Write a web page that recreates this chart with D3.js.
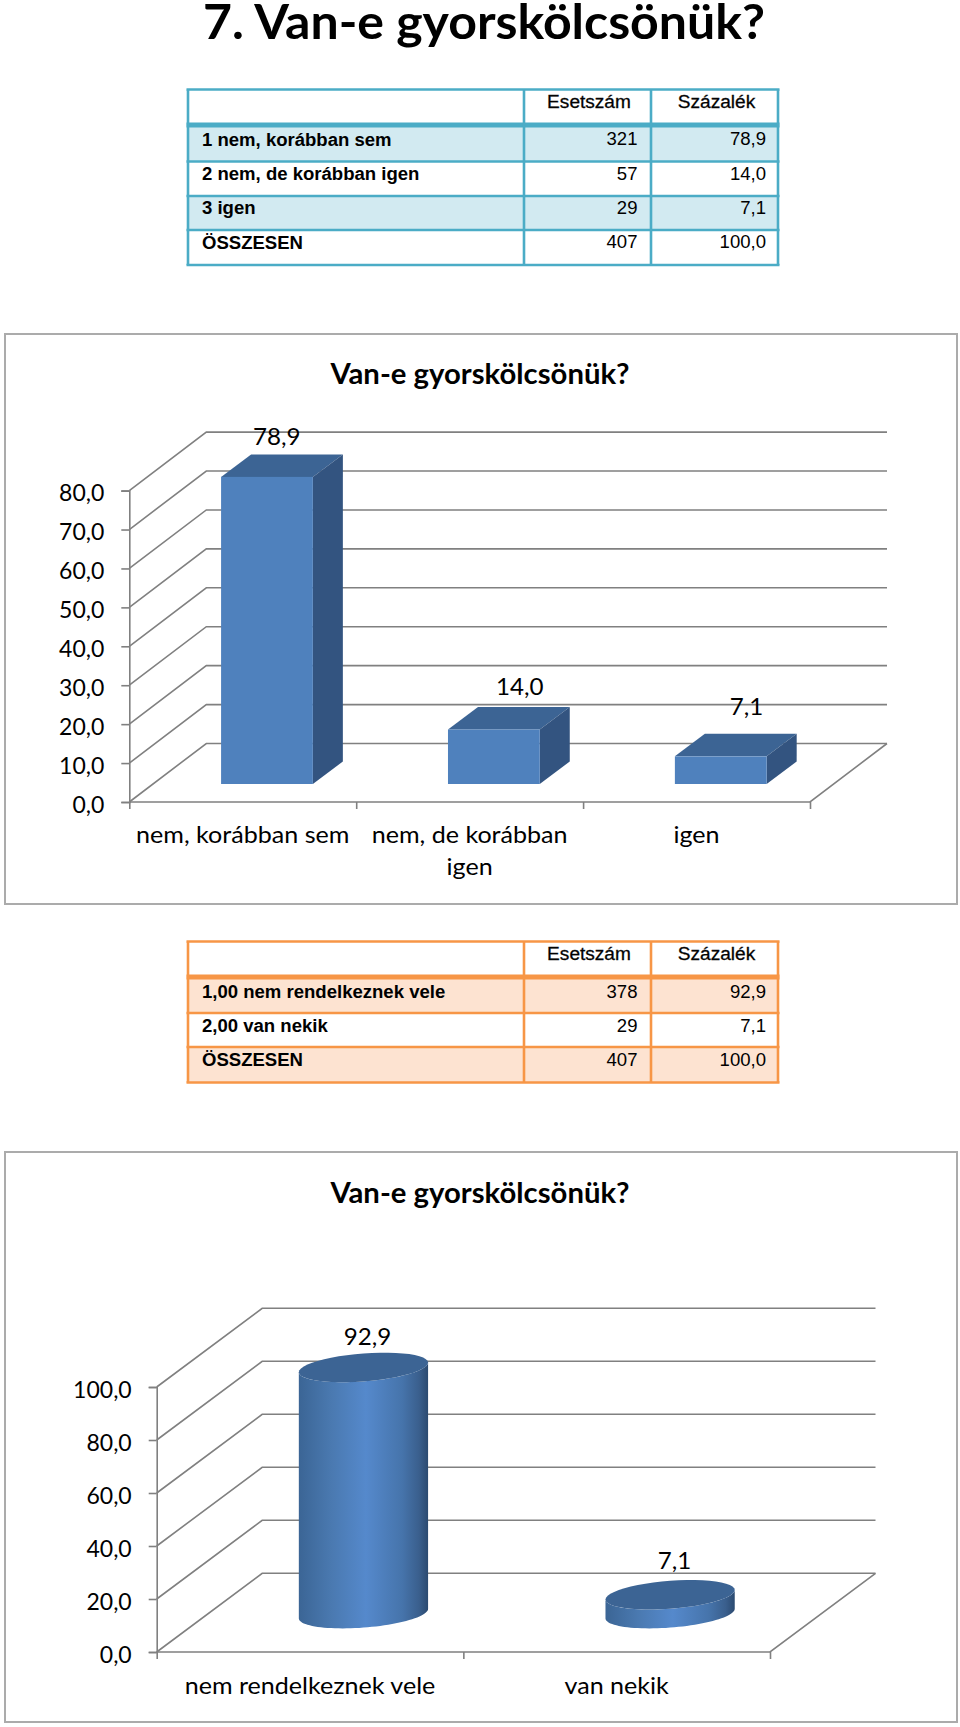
<!DOCTYPE html>
<html><head><meta charset="utf-8">
<script src="https://cdn.jsdelivr.net/npm/d3@7"></script>
<style>html,body{margin:0;padding:0;background:#fff}svg{display:block}text{fill:#000}</style>
</head><body><svg id="c" width="960" height="1727"></svg>
<script>
const pageTitle = "7. Van-e gyorskölcsönük?";
const chartTitle = "Van-e gyorskölcsönük?";
const tableHeader = ["", "Esetszám", "Százalék"];
const table1Labels = ["1 nem, korábban sem", "2 nem, de korábban igen", "3 igen", "ÖSSZESEN"];
const table1Counts = [321, 57, 29, 407];
const table1Pct = [78.9, 14.0, 7.1, 100.0];
const table2Labels = ["1,00 nem rendelkeznek vele", "2,00 van nekik", "ÖSSZESEN"];
const table2Counts = [378, 29, 407];
const table2Pct = [92.9, 7.1, 100.0];
const barCategories = ["nem, korábban sem", "nem, de korábban igen", "igen"];
const barValues = [78.9, 14.0, 7.1];
const barTicks = [0, 10, 20, 30, 40, 50, 60, 70, 80];
const cylCategories = ["nem rendelkeznek vele", "van nekik"];
const cylValues = [92.9, 7.1];
const cylTicks = [0, 20, 40, 60, 80, 100];

const svg = d3.select("#c");
const HU = d3.formatLocale({decimal: ",", thousands: " ", grouping: [3], currency: ["", ""]});
const fmt = HU.format(".1f");
const SANS = "Lato, Carlito, sans-serif";
const ARIAL = "'Liberation Sans', Arial, sans-serif";

// horizontally stretch a text to a factor of its natural width (the source picture is stretched)
function stretch(sel, f) {
  sel.each(function () {
    const n = this.getComputedTextLength();
    this.setAttribute("textLength", n * f);
    this.setAttribute("lengthAdjust", "spacingAndGlyphs");
  });
  return sel;
}

// page title
stretch(svg.append("text").attr("x", 484).attr("y", 39).attr("text-anchor", "middle")
  .attr("font-family", SANS).attr("font-weight", 700).attr("font-size", 47).text(pageTitle), 1.064);

// ---------- tables ----------
function drawTable(o) {
  const g = svg.append("g");
  const [x0, x1, x2, x3] = o.cols;
  const ys = o.rowYs;
  o.labels.forEach((l, i) => {
    if (i % 2 === 0) g.append("rect").attr("x", x0).attr("y", ys[i + 1]).attr("width", x3 - x0)
      .attr("height", ys[i + 2] - ys[i + 1]).attr("fill", o.band);
  });
  ys.forEach((y, i) => g.append("line").attr("x1", x0 - 1.5).attr("x2", x3 + 1.5).attr("y1", y).attr("y2", y)
    .attr("stroke", o.color).attr("stroke-width", i === 1 ? 5 : 2.6));
  o.cols.forEach(x => g.append("line").attr("x1", x).attr("x2", x).attr("y1", ys[0]).attr("y2", ys[ys.length - 1])
    .attr("stroke", o.color).attr("stroke-width", 2.6));
  const T = (x, y, s, anchor, bold, f) => stretch(g.append("text").attr("x", x).attr("y", y)
    .attr("text-anchor", anchor).attr("font-family", ARIAL).attr("font-size", 18)
    .attr("font-weight", bold ? 700 : 400).attr("fill", "#111").text(s), f);
  T(589, o.base[0], tableHeader[1], "middle", false, 1.06).attr("stroke", "#111").attr("stroke-width", 0.3);
  T(716.5, o.base[0], tableHeader[2], "middle", false, 1.06).attr("stroke", "#111").attr("stroke-width", 0.3);
  o.labels.forEach((l, i) => {
    T(202, o.base[i + 1], l, "start", true, 1.03);
    T(637.5, o.base[i + 1] + o.numShift, String(o.counts[i]), "end", false, 1.03);
    T(766, o.base[i + 1] + o.numShift, fmt(o.pct[i]), "end", false, 1.03);
  });
}
drawTable({cols: [188, 524, 651, 778], rowYs: [89.5, 125, 161.5, 196, 230, 265],
  base: [107.5, 145.5, 180, 214, 248.5], numShift: -0.5, labels: table1Labels, counts: table1Counts, pct: table1Pct,
  color: "#4bacc6", band: "#d2eaf1"});
drawTable({cols: [188, 524, 651, 778], rowYs: [941.5, 977, 1013, 1047, 1082.5],
  base: [960, 998, 1032, 1066], numShift: 0, labels: table2Labels, counts: table2Counts, pct: table2Pct,
  color: "#f79646", band: "#fde3d1"});

// ---------- 3D chart frame ----------
function frame(o) {
  const g = svg.append("g");
  g.append("rect").attr("x", o.box[0]).attr("y", o.box[1]).attr("width", o.box[2] - o.box[0])
    .attr("height", o.box[3] - o.box[1]).attr("fill", "#fff").attr("stroke", "#ababab").attr("stroke-width", 2);
  stretch(g.append("text").attr("x", 480).attr("y", o.titleY).attr("text-anchor", "middle")
    .attr("font-family", SANS).attr("font-weight", 700).attr("font-size", 29).text(chartTitle), 1.01);

  const y = d3.scaleLinear().domain(o.domain).range([o.y0, o.yTop]);
  const band = d3.scaleBand().domain(o.cats).range([o.x0, o.x1]);
  const GRID = "#808080";

  const lines = g.append("g").attr("fill", "none").attr("stroke", GRID).attr("stroke-width", 1.6);
  lines.selectAll("path.w").data(o.ticks).join("path").attr("class", "w")
    .attr("d", v => d3.line()([[o.x0, y(v)], [o.x0 + o.dx, y(v) + o.dy], [o.x1 + o.dx, y(v) + o.dy]]));
  lines.append("path").attr("d", d3.line()([[o.x0, o.y0], [o.x1, o.y0], [o.x1 + o.dx, o.y0 + o.dy]]));

  const ax = g.append("g").attr("transform", `translate(${o.x0},0)`)
    .call(d3.axisLeft(y).tickValues(o.ticks).tickFormat(fmt).tickSize(8).tickPadding(17));
  ax.select(".domain").attr("stroke", GRID).attr("stroke-width", 1.6);
  ax.selectAll(".tick line").attr("stroke", GRID).attr("stroke-width", 1.6);
  ax.selectAll("text").attr("font-family", SANS).attr("font-size", 23).attr("fill", "#000").attr("dy", "0.45em");
  stretch(ax.selectAll("text"), 1.0);

  const idx = d3.scaleLinear().domain([0, o.cats.length]).range([o.x0, o.x1]);
  const bx = g.append("g").attr("transform", `translate(0,${o.y0})`)
    .call(d3.axisBottom(idx).tickValues(d3.range(o.cats.length + 1)).tickFormat("").tickSize(7));
  bx.select(".domain").remove();
  bx.selectAll(".tick line").attr("stroke", GRID).attr("stroke-width", 1.6);

  o.cats.forEach((c, i) => {
    const cx = band(c) + band.bandwidth() / 2;
    const lab = g.append("text").attr("font-family", SANS).attr("font-size", 23).attr("text-anchor", "middle");
    let line = [], ln = 0;
    const add = s => lab.append("tspan").attr("x", cx).attr("y", o.catY + ln * o.catLH).text(s);
    let ts = add("");
    c.split(" ").forEach(w => {
      line.push(w);
      ts.text(line.join(" "));
      if (ts.node().getComputedTextLength() > o.wrap && line.length > 1) {
        line.pop(); ts.text(line.join(" "));
        line = [w]; ln++; ts = add(w);
      }
    });
    stretch(lab.selectAll("tspan"), 1.09);
  });
  return {g, y, band};
}

// ---------- chart 1: 3D columns ----------
const c1 = {box: [5, 334, 957, 904], titleY: 384, domain: [0, 80], y0: 802, yTop: 490.6, x0: 129.3, x1: 810,
  dx: 77, dy: -58.5, ticks: barTicks, cats: barCategories, catY: 843, catLH: 32, wrap: 200};
{
  const {g, y, band} = frame(c1);
  const barOffset = band.bandwidth() * 0.4045, barW = band.bandwidth() * 0.4045;
  const lift = 18, ddx = 30, ddy = -22.5;
  const labelShift = [[9.8, -31.5], [26, -34.5], [25.7, -41.5]];
  barValues.forEach((v, i) => {
    const x = band(barCategories[i]) + barOffset, base = y(0) - lift, top = y(v) - lift;
    const P = pts => d3.line()(pts) + "Z";
    g.append("path").attr("fill", "#3c6494").attr("d", P([[x, top], [x + barW, top], [x + barW + ddx, top + ddy], [x + ddx, top + ddy]]));
    g.append("path").attr("fill", "#335480").attr("d", P([[x + barW, top], [x + barW + ddx, top + ddy], [x + barW + ddx, base + ddy], [x + barW, base]]));
    g.append("rect").attr("x", x).attr("y", top).attr("width", barW).attr("height", base - top).attr("fill", "#4f81bd");
    stretch(g.append("text").attr("x", x + barW / 2 + labelShift[i][0])
      .attr("y", top + labelShift[i][1]).attr("text-anchor", "middle")
      .attr("font-family", SANS).attr("font-size", 23).text(fmt(v)), 1.05);
  });
}

// ---------- chart 2: 3D cylinders ----------
const defs = svg.append("defs");
const grad = defs.append("linearGradient").attr("id", "cyl").attr("x1", 0).attr("x2", 1).attr("y1", 0).attr("y2", 0);
[[0, "#3b6595"], [0.25, "#4a79b0"], [0.52, "#5589cc"], [0.8, "#4674ab"], [0.93, "#3a5f8d"], [1, "#2b4a70"]]
  .forEach(([o, c]) => grad.append("stop").attr("offset", o).attr("stop-color", c));

const c2 = {box: [5, 1152, 957, 1722], titleY: 1203, domain: [0, 100], y0: 1652, yTop: 1387, x0: 156.7, x1: 770,
  dx: 105.5, dy: -78.7, ticks: cylTicks, cats: cylCategories, catY: 1693.5, catLH: 32, wrap: 400};
{
  const {g, y, band} = frame(c2);
  const w = band.bandwidth() * 0.4215, off = band.bandwidth() * 0.4635, lift = 38.4;
  const ry = 14, k = -4.8;
  const pt = (cx, cy, rx, t) => [cx + rx * Math.cos(t), cy + ry * Math.sin(t) + k * Math.cos(t)];
  const arc = (cx, cy, rx, a, b) => d3.range(0, 49).map(i => pt(cx, cy, rx, a + (b - a) * i / 48));
  const labelShift = [[4, -22], [4.5, -25.5]];
  cylValues.forEach((v, i) => {
    const rx = w / 2, cx = band(cylCategories[i]) + off + rx;
    const base = y(0) - lift, top = y(v) - lift;
    const body = [...arc(cx, base, rx, Math.PI, 0), ...arc(cx, top, rx, 0, Math.PI)];
    g.append("path").attr("fill", "url(#cyl)").attr("d", d3.line()(body) + "Z");
    g.append("path").attr("fill", "#3c6494").attr("d", d3.line()(arc(cx, top, rx, 0, 2 * Math.PI)) + "Z");
    stretch(g.append("text").attr("x", cx + labelShift[i][0]).attr("y", top + labelShift[i][1]).attr("text-anchor", "middle")
      .attr("font-family", SANS).attr("font-size", 23).text(fmt(v)), 1.05);
  });
}
</script></body></html>
